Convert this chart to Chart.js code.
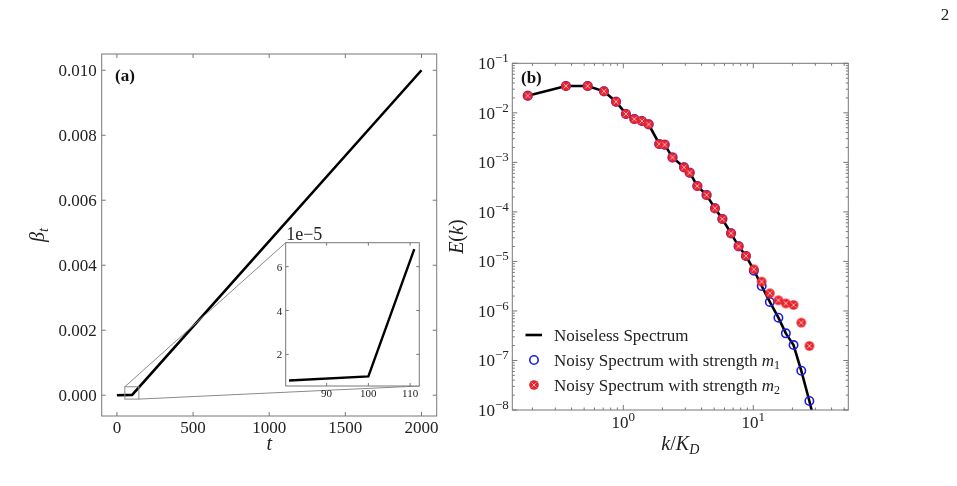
<!DOCTYPE html>
<html>
<head>
<meta charset="utf-8">
<script src="https://cdn.jsdelivr.net/npm/chart.js@4.4.1/dist/chart.umd.min.js"></script>
<style>
html, body { margin: 0; padding: 0; background: #fff; }
#wrap { position: relative; width: 957px; height: 486px; overflow: hidden; }
#wrap canvas { position: absolute; left: 0; top: 0; }
</style>
</head>
<body>
<div id="wrap">
  <canvas id="chartA" width="957" height="486"></canvas>
  <canvas id="chartInset" width="957" height="486"></canvas>
  <canvas id="chartB" width="957" height="486"></canvas>
</div>
<script>
// ---- panel (a): beta_t against t
var tMain = [0, 100, 2000];
var betaMain = [0, 1.0e-5, 0.010];
var tTicksA = [0, 500, 1000, 1500, 2000];
var betaTicksA = [0, 0.002, 0.004, 0.006, 0.008, 0.010];

// inset, beta in units of 1e-5
var tInset = [81, 100, 111];
var betaInset = [0.81, 1.0, 6.8];
var tTicksInset = [90, 100, 110];
var betaTicksInset = [2, 4, 6];

// ---- panel (b): E(k) against k/K_D
var kNoisy = [0.184, 0.362, 0.532, 0.71, 0.879, 1.048, 1.216, 1.39, 1.566, 1.89, 2.08, 2.39, 2.93, 3.24,
  3.71, 4.37, 5.07, 5.78, 6.74, 7.71, 8.78, 10.1, 11.6, 13.4, 15.6, 17.8, 20.4, 23.4, 27.0];
var kNoiseless = kNoisy.concat([31.0]);
var eNoiseless = [0.0222, 0.0348, 0.0348, 0.0272, 0.0168, 0.0095, 0.0075, 0.00685, 0.00586, 0.00235, 0.00228,
  0.00126, 0.000794, 0.00062, 0.000333, 0.000219, 0.000118, 7.19e-5, 3.69e-5, 2.02e-5, 1.29e-5, 6.7e-6,
  3.19e-6, 1.52e-6, 7.3e-7, 3.53e-7, 2.05e-7, 6.2e-8, 1.52e-8, 3.5e-9];
var eNoisyM1 = [0.0222, 0.0348, 0.0348, 0.0272, 0.0168, 0.0095, 0.0075, 0.00685, 0.00586, 0.00235, 0.00228,
  0.00126, 0.000794, 0.00062, 0.000333, 0.000219, 0.000118, 7.19e-5, 3.69e-5, 2.02e-5, 1.29e-5, 6.5e-6,
  3.19e-6, 1.52e-6, 7.3e-7, 3.53e-7, 2.05e-7, 6.2e-8, 1.52e-8];
var eNoisyM2 = [0.0222, 0.0348, 0.0348, 0.0272, 0.0168, 0.0095, 0.0075, 0.00685, 0.00586, 0.00235, 0.00228,
  0.00126, 0.000794, 0.00062, 0.000333, 0.000219, 0.000118, 7.19e-5, 3.69e-5, 2.02e-5, 1.29e-5, 6.92e-6,
  3.9e-6, 2.27e-6, 1.64e-6, 1.42e-6, 1.32e-6, 5.8e-7, 1.96e-7];
var kTicksB = [0.1, 1, 10, 100];
var eTicksB = [1e-8, 1e-7, 1e-6, 1e-5, 1e-4, 1e-3, 1e-2, 1e-1];
var legendLabels = ['Noiseless Spectrum', 'Noisy Spectrum with strength ', 'Noisy Spectrum with strength '];

// plot boxes (page pixels)
var LA = { left: 101.7, top: 54, right: 436.7, bottom: 416 };
var LI = { left: 285.7, top: 242.7, right: 419.3, bottom: 386 };
var LB = { left: 512.3, top: 63.3, right: 848.3, bottom: 410 };

var SERIF = "'Liberation Serif', 'Times New Roman', serif";
var INK = '#222';
var FRAME = '#777';

function pad(box) {
  return { left: box.left, top: box.top, right: 957 - box.right, bottom: 486 - box.bottom };
}

function seg(ctx, x0, y0, x1, y1) {
  ctx.beginPath();
  ctx.moveTo(x0, y0);
  ctx.lineTo(x1, y1);
  ctx.stroke();
}

// draw text made of several runs (italic / subscript / superscript)
function rich(ctx, parts, x, y, align) {
  var w = 0;
  parts.forEach(function (p) { ctx.font = p.f; p.w = ctx.measureText(p.t).width; w += p.w; });
  var cx = align === 'center' ? x - w / 2 : (align === 'right' ? x - w : x);
  ctx.textAlign = 'left';
  ctx.textBaseline = 'alphabetic';
  parts.forEach(function (p) {
    ctx.font = p.f;
    ctx.fillText(p.t, cx, y + (p.dy || 0));
    cx += p.w;
  });
}

function powLabel(ctx, v, x, y, align) {
  var e = Math.round(Math.log10(v));
  var ex = (e < 0 ? '\u2212' : '') + Math.abs(e);
  rich(ctx, [{ t: '10', f: '17px ' + SERIF }, { t: ex, f: '13px ' + SERIF, dy: -7 }], x, y, align);
}

function minorsLog(min, max) {
  var out = [];
  for (var e = Math.floor(Math.log10(min)); e <= Math.ceil(Math.log10(max)); e++) {
    for (var m = 2; m <= 9; m++) {
      var v = m * Math.pow(10, e);
      if (v > min && v < max) out.push(v);
    }
  }
  return out;
}

// frame with inward ticks on all four sides
function drawFrame(chart, o) {
  var ctx = chart.ctx, a = chart.chartArea, x = chart.scales.x, y = chart.scales.y;
  ctx.save();
  ctx.strokeStyle = FRAME;
  ctx.lineWidth = 1;
  ctx.strokeRect(a.left, a.top, a.right - a.left, a.bottom - a.top);
  function inX(v) { return v >= x.min && v <= x.max; }
  function inY(v) { return v >= y.min && v <= y.max; }
  (o.xMinor || []).filter(inX).forEach(function (v) {
    var p = x.getPixelForValue(v);
    seg(ctx, p, a.bottom, p, a.bottom - o.minor);
    seg(ctx, p, a.top, p, a.top + o.minor);
  });
  (o.yMinor || []).filter(inY).forEach(function (v) {
    var p = y.getPixelForValue(v);
    seg(ctx, a.left, p, a.left + o.minor, p);
    seg(ctx, a.right, p, a.right - o.minor, p);
  });
  ctx.fillStyle = INK;
  o.xMajor.filter(inX).forEach(function (v) {
    var p = x.getPixelForValue(v);
    seg(ctx, p, a.bottom, p, a.bottom - o.major);
    seg(ctx, p, a.top, p, a.top + o.major);
    o.xLabel(ctx, v, p, a.bottom);
  });
  o.yMajor.filter(inY).forEach(function (v) {
    var p = y.getPixelForValue(v);
    seg(ctx, a.left, p, a.left + o.major, p);
    seg(ctx, a.right, p, a.right - o.major, p);
    o.yLabel(ctx, v, a.left, p);
  });
  ctx.restore();
}

function crossDot(r) {
  var s = Math.ceil(2 * r + 2);
  var c = document.createElement('canvas');
  c.width = s; c.height = s;
  var g = c.getContext('2d');
  var m = s / 2, d = r * 0.5;
  g.fillStyle = '#e8232b';
  g.beginPath(); g.arc(m, m, r, 0, Math.PI * 2); g.fill();
  g.strokeStyle = 'rgba(255,185,185,0.95)';
  g.lineWidth = 1;
  g.beginPath();
  g.moveTo(m - d, m - d); g.lineTo(m + d, m + d);
  g.moveTo(m + d, m - d); g.lineTo(m - d, m + d);
  g.stroke();
  return c;
}
var redDot = crossDot(4.8);

function pts(xs, ys) {
  return xs.map(function (v, i) { return { x: v, y: ys[i] }; });
}

var common = {
  responsive: false,
  animation: false,
  events: [],
  plugins: { legend: { display: false }, tooltip: { enabled: false } }
};

// ---------- panel (a)
var panelA = {
  id: 'panelA',
  afterDraw: function (chart) {
    var ctx = chart.ctx, x = chart.scales.x, y = chart.scales.y;
    // zoom box and connectors to the inset
    ctx.save();
    ctx.strokeStyle = '#8a8a8a';
    ctx.lineWidth = 1;
    var bx0 = x.getPixelForValue(52), bx1 = x.getPixelForValue(144);
    var by0 = y.getPixelForValue(0.00026), by1 = y.getPixelForValue(-0.00012);
    ctx.strokeRect(bx0, by0, bx1 - bx0, by1 - by0);
    seg(ctx, bx0, by0, LI.left, LI.top);
    seg(ctx, bx1, by1, LI.right, LI.bottom);
    ctx.restore();

    drawFrame(chart, {
      major: 4, minor: 0,
      xMajor: tTicksA, yMajor: betaTicksA,
      xLabel: function (c, v, p, b) {
        c.font = '17px ' + SERIF; c.textAlign = 'center'; c.textBaseline = 'alphabetic';
        c.fillText(String(v), p, b + 17);
      },
      yLabel: function (c, v, l, p) {
        c.font = '17px ' + SERIF; c.textAlign = 'right'; c.textBaseline = 'alphabetic';
        c.fillText(v.toFixed(3), l - 5, p + 6);
      }
    });

    ctx.save();
    ctx.fillStyle = INK;
    rich(ctx, [{ t: 't', f: 'italic 20px ' + SERIF }], (LA.left + LA.right) / 2, 450, 'center');
    ctx.translate(39, (LA.top + LA.bottom) / 2);
    ctx.rotate(-Math.PI / 2);
    rich(ctx, [{ t: '\u03B2', f: 'italic 20px ' + SERIF }, { t: 't', f: 'italic 14px ' + SERIF, dy: 4 }], 0, 5, 'center');
    ctx.restore();
    ctx.save();
    ctx.fillStyle = '#111';
    rich(ctx, [{ t: '(a)', f: 'bold 17px ' + SERIF }], 115, 81, 'left');
    ctx.restore();
  }
};

new Chart(document.getElementById('chartA'), {
  type: 'line',
  data: {
    datasets: [{
      data: pts(tMain, betaMain),
      borderColor: '#000', borderWidth: 2.6, pointRadius: 0, tension: 0
    }]
  },
  options: Object.assign({}, common, {
    layout: { padding: pad(LA) },
    scales: {
      x: { type: 'linear', display: false, min: -100, max: 2100 },
      y: { type: 'linear', display: false, min: -0.00064, max: 0.0105 }
    }
  }),
  plugins: [panelA]
});

// ---------- inset
var panelInset = {
  id: 'panelInset',
  beforeDraw: function (chart) {
    var a = chart.chartArea;
    chart.ctx.save();
    chart.ctx.fillStyle = '#fff';
    chart.ctx.fillRect(a.left, a.top, a.right - a.left, a.bottom - a.top);
    chart.ctx.restore();
  },
  afterDraw: function (chart) {
    drawFrame(chart, {
      major: 3, minor: 0,
      xMajor: tTicksInset, yMajor: betaTicksInset,
      xLabel: function (c, v, p, b) {
        c.font = '11px ' + SERIF; c.textAlign = 'center'; c.textBaseline = 'alphabetic';
        c.fillText(String(v), p, b + 11);
      },
      yLabel: function (c, v, l, p) {
        c.font = '11px ' + SERIF; c.textAlign = 'right'; c.textBaseline = 'alphabetic';
        c.fillText(String(v), l - 3.5, p + 4);
      }
    });
    var ctx = chart.ctx;
    ctx.save();
    ctx.fillStyle = INK;
    rich(ctx, [{ t: '1e\u22125', f: '18px ' + SERIF }], LI.left + 0.5, LI.top - 3, 'left');
    ctx.restore();
  }
};

new Chart(document.getElementById('chartInset'), {
  type: 'line',
  data: {
    datasets: [{
      data: pts(tInset, betaInset),
      borderColor: '#000', borderWidth: 2.4, pointRadius: 0, tension: 0
    }]
  },
  options: Object.assign({}, common, {
    layout: { padding: pad(LI) },
    scales: {
      x: { type: 'linear', display: false, min: 80.2, max: 112.2 },
      y: { type: 'linear', display: false, min: 0.56, max: 7.09 }
    }
  }),
  plugins: [panelInset]
});

// ---------- panel (b)
var panelB = {
  id: 'panelB',
  afterDraw: function (chart) {
    var ctx = chart.ctx, x = chart.scales.x, y = chart.scales.y;
    drawFrame(chart, {
      major: 5, minor: 2.5,
      xMajor: kTicksB, yMajor: eTicksB,
      xMinor: minorsLog(x.min, x.max), yMinor: minorsLog(y.min, y.max),
      xLabel: function (c, v, p, b) { powLabel(c, v, p, b + 18, 'center'); },
      yLabel: function (c, v, l, p) { powLabel(c, v, l - 3.5, p + 6, 'right'); }
    });

    ctx.save();
    ctx.fillStyle = INK;
    rich(ctx, [
      { t: 'k', f: 'italic 20px ' + SERIF },
      { t: '/', f: '20px ' + SERIF },
      { t: 'K', f: 'italic 20px ' + SERIF },
      { t: 'D', f: 'italic 14px ' + SERIF, dy: 4 }
    ], (LB.left + LB.right) / 2, 450, 'center');
    ctx.save();
    ctx.translate(458, (LB.top + LB.bottom) / 2);
    ctx.rotate(-Math.PI / 2);
    rich(ctx, [
      { t: 'E', f: 'italic 20px ' + SERIF },
      { t: '(', f: '20px ' + SERIF },
      { t: 'k', f: 'italic 20px ' + SERIF },
      { t: ')', f: '20px ' + SERIF }
    ], 0, 5, 'center');
    ctx.restore();
    ctx.fillStyle = '#111';
    rich(ctx, [{ t: '(b)', f: 'bold 17px ' + SERIF }], 521, 83, 'left');

    // legend, built from the dataset styles
    var ds = chart.data.datasets;
    var rows = [335, 360, 385];
    var sx = 534, tx = 554;
    ctx.strokeStyle = ds[0].borderColor;
    ctx.lineWidth = ds[0].borderWidth;
    seg(ctx, 525.5, rows[0], 542, rows[0]);
    ctx.strokeStyle = ds[1].borderColor;
    ctx.lineWidth = ds[1].borderWidth;
    ctx.beginPath(); ctx.arc(sx, rows[1], ds[1].pointRadius, 0, Math.PI * 2); ctx.stroke();
    ctx.drawImage(redDot, sx - redDot.width / 2, rows[2] - redDot.height / 2);
    ctx.fillStyle = INK;
    rich(ctx, [{ t: legendLabels[0], f: '17px ' + SERIF }], tx, rows[0] + 6, 'left');
    rich(ctx, [{ t: legendLabels[1], f: '17px ' + SERIF }, { t: 'm', f: 'italic 17px ' + SERIF },
      { t: '1', f: '12px ' + SERIF, dy: 3 }], tx, rows[1] + 6, 'left');
    rich(ctx, [{ t: legendLabels[2], f: '17px ' + SERIF }, { t: 'm', f: 'italic 17px ' + SERIF },
      { t: '2', f: '12px ' + SERIF, dy: 3 }], tx, rows[2] + 6, 'left');

    // page number
    rich(ctx, [{ t: '2', f: '17px ' + SERIF }], 945, 20, 'center');
    ctx.restore();
  }
};

new Chart(document.getElementById('chartB'), {
  type: 'scatter',
  data: {
    datasets: [
      {
        label: legendLabels[0], data: pts(kNoiseless, eNoiseless), showLine: true,
        borderColor: '#000', borderWidth: 2.6, pointRadius: 0, order: 3, clip: 0
      },
      {
        label: legendLabels[1] + 'm1', data: pts(kNoisy, eNoisyM1), showLine: false,
        borderColor: '#1c1ce0', backgroundColor: 'rgba(0,0,0,0)', borderWidth: 1.6,
        pointRadius: 4.2, order: 2
      },
      {
        label: legendLabels[2] + 'm2', data: pts(kNoisy, eNoisyM2), showLine: false,
        pointStyle: redDot, pointRadius: 4.8, order: 1
      }
    ]
  },
  options: Object.assign({}, common, {
    layout: { padding: pad(LB) },
    scales: {
      x: { type: 'logarithmic', display: false, min: 0.14, max: 53.8 },
      y: { type: 'logarithmic', display: false, min: 1e-8, max: 0.1 }
    }
  }),
  plugins: [panelB]
});
</script>
</body>
</html>
